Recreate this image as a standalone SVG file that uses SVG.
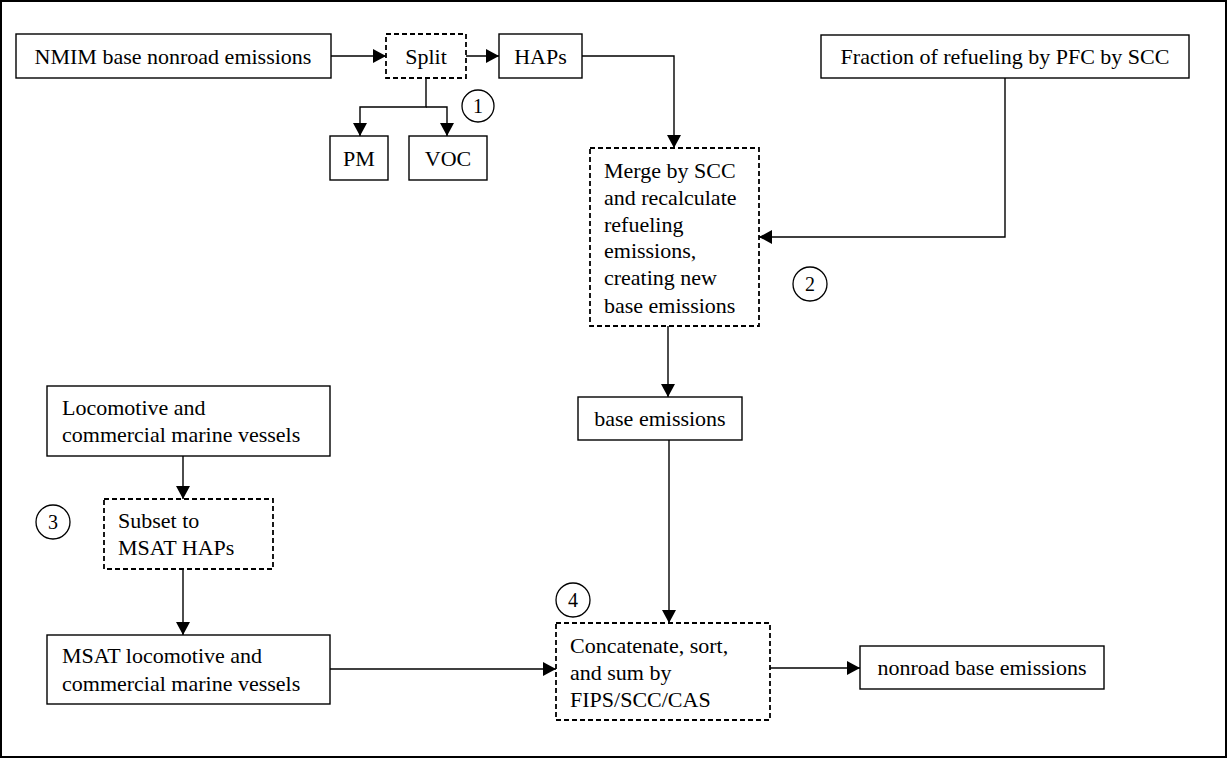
<svg xmlns="http://www.w3.org/2000/svg" width="1228" height="759" viewBox="0 0 1228 759">
<style>
.box{fill:#fff;stroke:#000;stroke-width:1.4}
.dbox{fill:#fff;stroke:#000;stroke-width:1.8;stroke-dasharray:5,3}
.t{font-family:"Liberation Serif","Times New Roman",serif;font-size:22px;fill:#000}
.c{text-anchor:middle}
.num{font-family:"Liberation Serif","Times New Roman",serif;font-size:20px;fill:#000;text-anchor:middle}
.circ{fill:none;stroke:#000;stroke-width:1.3}
.conn path{fill:none;stroke:#000;stroke-width:1.4}
</style>
<defs>
<marker id="ah" markerUnits="userSpaceOnUse" markerWidth="14" markerHeight="14" refX="13" refY="7" orient="auto">
<path d="M0,0 L13,7 L0,14 z" fill="#000"/>
</marker>
</defs>
<rect x="1" y="1" width="1225" height="756" fill="#fff" stroke="#000" stroke-width="2"/>
<g class="conn">
<path d="M331,56 H386" marker-end="url(#ah)"/>
<path d="M466,56 H499" marker-end="url(#ah)"/>
<path d="M426,78 V107 H360 V136" marker-end="url(#ah)"/>
<path d="M426,107 H447 V136" marker-end="url(#ah)"/>
<path d="M582,56 H674 V148" marker-end="url(#ah)"/>
<path d="M1005,78 V237 H759" marker-end="url(#ah)"/>
<path d="M668,326 V397" marker-end="url(#ah)"/>
<path d="M669,440 V623" marker-end="url(#ah)"/>
<path d="M183,456 V499" marker-end="url(#ah)"/>
<path d="M183,569 V635" marker-end="url(#ah)"/>
<path d="M330,669 H556" marker-end="url(#ah)"/>
<path d="M770,668 H860" marker-end="url(#ah)"/>
</g>
<g id="nmim"><rect class="box" x="16" y="34" width="315" height="44"/><text class="t c" x="173" y="64">NMIM base nonroad emissions</text></g>
<g id="split"><rect class="dbox" x="386" y="34" width="80" height="44"/><text class="t c" x="426" y="64">Split</text></g>
<g id="haps"><rect class="box" x="499" y="34" width="83" height="44"/><text class="t c" x="540.5" y="64">HAPs</text></g>
<g id="pm"><rect class="box" x="330" y="136" width="58" height="44"/><text class="t c" x="359" y="166">PM</text></g>
<g id="voc"><rect class="box" x="409" y="136" width="78" height="44"/><text class="t c" x="448" y="166">VOC</text></g>
<g id="step1"><circle class="circ" cx="478" cy="106" r="16"/><text class="num" x="478" y="113">1</text></g>
<g id="fraction"><rect class="box" x="821" y="35" width="368" height="43"/><text class="t c" x="1005" y="64">Fraction of refueling by PFC by SCC</text></g>
<g id="merge"><rect class="dbox" x="590" y="148" width="169" height="178"/>
<text class="t" x="604"><tspan x="604" y="178">Merge by SCC</tspan><tspan x="604" y="205">and recalculate</tspan><tspan x="604" y="232">refueling</tspan><tspan x="604" y="258">emissions,</tspan><tspan x="604" y="285">creating new</tspan><tspan x="604" y="313">base emissions</tspan></text></g>
<g id="step2"><circle class="circ" cx="810" cy="284" r="17"/><text class="num" x="810" y="291">2</text></g>
<g id="base"><rect class="box" x="578" y="397" width="164" height="43"/><text class="t c" x="660" y="426">base emissions</text></g>
<g id="loco"><rect class="box" x="47" y="386" width="283" height="70"/><text class="t"><tspan x="62" y="415">Locomotive and</tspan><tspan x="62" y="442">commercial marine vessels</tspan></text></g>
<g id="subset"><rect class="dbox" x="104" y="499" width="169" height="70"/><text class="t"><tspan x="118" y="528">Subset to</tspan><tspan x="118" y="555">MSAT HAPs</tspan></text></g>
<g id="step3"><circle class="circ" cx="53" cy="522" r="17"/><text class="num" x="53" y="529">3</text></g>
<g id="msat"><rect class="box" x="47" y="635" width="283" height="69"/><text class="t"><tspan x="62" y="663">MSAT locomotive and</tspan><tspan x="62" y="691">commercial marine vessels</tspan></text></g>
<g id="concat"><rect class="dbox" x="556" y="623" width="214" height="97"/><text class="t"><tspan x="570" y="653">Concatenate, sort,</tspan><tspan x="570" y="680">and sum by</tspan><tspan x="570" y="707">FIPS/SCC/CAS</tspan></text></g>
<g id="step4"><circle class="circ" cx="573" cy="600" r="17"/><text class="num" x="573" y="607">4</text></g>
<g id="nonroad"><rect class="box" x="860" y="646" width="244" height="43"/><text class="t c" x="982" y="675">nonroad base emissions</text></g>
</svg>
